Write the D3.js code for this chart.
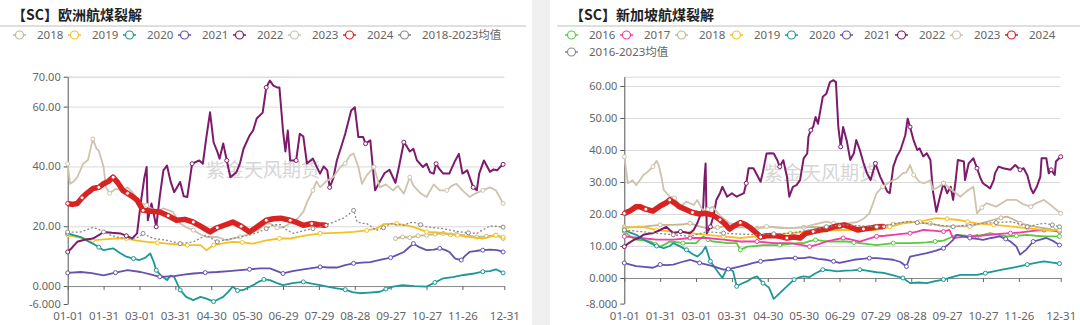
<!DOCTYPE html>
<html><head><meta charset="utf-8">
<script src="https://cdn.jsdelivr.net/npm/d3@7"></script>
<style>
body{margin:0;background:#fff;}
svg{display:block;font-family:"Noto Sans","Noto Sans CJK SC",sans-serif;}
</style></head><body>
<svg id="c" width="1080" height="325"></svg>
<script>
// ---------- shared axis data ----------
const xTickDays = [0,30,60,90,120,150,180,210,240,270,300,330,365];
const xTickLabels = ["01-01","01-31","03-01","03-31","04-30","05-30","06-29","07-29","08-28","09-27","10-27","11-26","12-31"];

// ---------- Europe (left) ----------
const euTitle = "【SC】欧洲航煤裂解";
const euYTicks = [-6,0,20,40,60,70];
const euYLabels = ["-6.000","0.000","20.00","40.00","60.00","70.00"];
const euYDomain = [-6,70];
const euLegend = ["2018","2019","2020","2021","2022","2023","2024","2018-2023均值"];

const eu2018 = [[274,15.9],[280,16.4],[286,16.2],[293,16.8],[300,17],[307,17.4],[314,17.6],[320,17.1],[325,17.3],[333,16.9],[342,16.4],[350,16.6],[358,17],[364,15.9]];
const eu2019 = [[0,17],[8,16.4],[15,15.8],[21,15.3],[30,15.6],[40,15.9],[49,15.9],[58,15.2],[66,14.8],[75,14.5],[83,14.2],[92,13.9],[100,13.7],[111,13.7],[116,12],[122,13.7],[130,14.3],[138,14.8],[146,14.6],[155,14.2],[166,15.3],[177,15.9],[186,15.9],[197,16.8],[211,17.6],[225,17.8],[239,18.1],[250,18.6],[258,19.2],[264,20.7],[275,20.9],[282,20.4],[289,19.8],[300,18.1],[308,17.9],[317,17.6],[326,17],[336,16.4],[347,15.9],[358,17],[364,16.4]];
const eu2020 = [[0,17.6],[5,17],[11,16.4],[16,15.2],[21,14.2],[26,13],[30,12],[38,12.6],[44,11],[49,9.8],[55,9.2],[60,8.7],[65,9.5],[69,10.9],[72,8],[74,5.3],[78,3.5],[83,2],[86,3.5],[89,3.1],[94,-1.3],[99,-3.6],[105,-4.7],[111,-3.6],[116,-4.2],[122,-5.2],[126,-4.4],[130,-3.6],[134,-2],[138,-0.2],[142,-1.5],[147,-1.3],[151,-0.5],[155,0.3],[160,1.5],[164,2.2],[169,2],[175,1],[180,0.3],[188,1],[197,1.4],[204,0.8],[211,0.3],[218,-0.3],[225,-0.8],[232,-1.2],[238,-2],[244,-2.4],[252,-2.2],[261,-1.9],[266,-1],[272,-0.2],[280,0.3],[290,0],[300,-0.2],[307,1.2],[314,2.6],[322,3],[331,3.7],[340,4.2],[347,4.8],[353,5],[358,5.6],[364,4.4]];
const eu2021 = [[0,4.4],[11,4.7],[20,4.3],[30,3.6],[40,4.5],[50,5.3],[61,4.7],[70,3.8],[77,3.1],[89,3.3],[97,3.8],[105,4.2],[115,4.5],[125,4.7],[135,5],[144,5.3],[152,5.6],[161,5.9],[169,5.9],[175,5],[180,4.2],[188,5],[197,5.6],[204,6],[211,6.4],[218,6.2],[225,6.2],[232,7],[239,7.6],[246,7.8],[253,8],[262,8.8],[270,9.5],[276,10.5],[281,11.4],[285,12.8],[289,14.2],[294,13],[300,12],[306,12.2],[311,12.6],[316,12],[319,11.4],[324,9.2],[329,8.7],[332,10],[336,11.4],[342,11.8],[347,12],[353,12.2],[359,12],[364,11.4]];
const eu2022 = [[0,11.4],[4,13],[8,14.8],[14,15.5],[21,15.9],[26,17],[30,18.1],[37,17.8],[44,17.6],[49,16.8],[54,15.9],[58,17.6],[61,27.6],[64,36],[66,39.8],[67,22],[70,27.6],[72,24],[74,19.8],[77,30],[80,38.7],[83,40.3],[86,35],[89,31.4],[94,34.8],[97,30],[100,29.8],[104,40.9],[110,42],[113,40.9],[116,50],[119,58.1],[122,48],[125,45],[127,42.6],[130,47.7],[133,42],[136,36.4],[141,38],[144,41],[147,45.9],[152,50.3],[155,52],[158,56],[163,58],[166,66.4],[169,68.7],[172,67],[175,66.4],[177,66.4],[180,52],[182,45],[184,52],[186,42],[191,42],[194,50.9],[197,50],[200,41],[205,42.6],[208,40],[211,37.6],[214,40],[217,38.7],[219,33],[222,36],[225,42],[229,47],[232,50.9],[237,58.7],[240,59.8],[243,49.8],[247,49.8],[249,47.6],[253,48.7],[255,40],[257,32],[261,35],[265,37.8],[269,38.9],[274,34.5],[277,40],[281,48.1],[283,47],[286,45],[289,45.9],[292,42],[297,39.8],[300,40.9],[303,38],[306,37.6],[308,40.9],[311,39],[314,37.6],[319,37.6],[324,42],[327,44.2],[330,37.6],[334,38.7],[336,36.4],[339,33],[342,32],[344,37.6],[348,42],[353,38.2],[356,39],[359,38.7],[362,40],[364,40.7]];
const eu2023 = [[0,40.9],[2,34.2],[5,35],[8,36.4],[13,40.9],[17,42.2],[21,49.2],[24,46],[26,45.3],[28,42.6],[30,39.8],[32,33.1],[35,31],[40,32.5],[46,32],[50,33],[55,31],[60,28.1],[66,27],[74,24.8],[80,26],[88,24.8],[94,20.9],[100,19.5],[105,18.7],[110,17.5],[116,16.4],[125,16.4],[133,15.3],[139,16],[144,16.4],[150,17.2],[155,18.1],[160,19],[166,20.9],[169,20.9],[175,19.5],[180,19.6],[186,21],[192,22.5],[197,24.8],[200,28],[205,32],[208,35],[211,33],[216,35],[222,36.4],[228,39.8],[232,41],[236,43.7],[239,44.3],[243,39.8],[246,34.2],[250,37],[256,39.8],[261,33],[266,34],[272,32],[276,33.5],[281,30.9],[286,36.4],[289,33.6],[295,31],[300,29.8],[306,34],[311,32],[317,32],[321,33.5],[325,34.2],[330,32],[336,29.8],[341,31],[347,32],[353,33],[358,32],[364,27.6]];
const eu2024 = [[0,27.6],[4,27.3],[8,27.6],[12,29.5],[16,31],[21,32.6],[26,33],[30,34.2],[34,35],[38,36.4],[42,34.5],[46,32],[50,31],[54,30],[58,28.7],[63,25.3],[70,25],[77,24.8],[84,23.5],[91,22],[98,22.3],[105,21.4],[112,19.8],[119,18.1],[125,19.5],[132,20.5],[138,21.4],[145,20],[152,18.1],[159,20],[166,22],[172,22.5],[178,22.7],[186,22],[192,21.2],[197,20.3],[204,20.9],[210,20.5],[216,20.3]];
const euAvg = [[0,18.1],[6,18],[11,18.1],[16,18.8],[21,19.6],[26,19],[30,18.1],[36,17],[41,16.4],[48,16],[55,15.9],[60,16.5],[63,17.6],[68,16.5],[72,15.9],[78,15.6],[83,15.3],[89,14.7],[94,14.2],[100,14.5],[105,14.8],[110,15.8],[116,17],[120,16],[125,14.8],[132,15.5],[138,15.9],[145,16.5],[152,17],[159,18],[166,19.2],[172,20.5],[178,20.5],[184,18.5],[189,17.6],[197,18.5],[205,19.2],[212,20],[219,20.9],[225,21.8],[230,22.6],[235,24],[239,25.3],[242,21.4],[246,21],[250,20.9],[254,19.8],[258,18.6],[264,19.5],[270,20.9],[275,20.5],[281,20.3],[285,21],[289,21.4],[295,20.5],[300,19.8],[307,19.5],[314,19.2],[321,18.6],[328,18.1],[335,17.8],[342,17.6],[348,19],[353,20.1],[358,20],[364,19.7]];

// ---------- Singapore (right) ----------
const sgTitle = "【SC】新加坡航煤裂解";
const sgYTicks = [-8,0,10,20,30,40,50,60];
const sgYLabels = ["-8.000","0.000","10.00","20.00","30.00","40.00","50.00","60.00"];
const sgYDomain = [-8,62.9];
const sgLegend = ["2016","2017","2018","2019","2020","2021","2022","2023","2024","2016-2023均值"];

const sg2016 = [[0,14.5],[5,13],[10,12],[16,11.8],[22,11.4],[26,10.5],[30,9.8],[34,10.5],[38,11.4],[44,11.2],[49,10.9],[55,10.9],[60,10.9],[63,12],[66,13],[70,12],[74,11.4],[80,11.2],[86,10.9],[94,10.9],[97,8.8],[103,9.8],[110,10],[116,10.3],[123,10.3],[130,10.3],[137,10.6],[144,10.9],[150,10.9],[155,11.5],[160,11.9],[166,11.6],[172,11.4],[179,11.4],[186,11.4],[192,11.1],[197,10.9],[204,10.6],[211,10.3],[218,10.6],[225,10.9],[232,10.9],[239,10.9],[246,11],[253,11.1],[260,11.4],[267,11.7],[272,12.5],[278,13.5],[286,13.2],[295,13],[300,13.5],[306,14],[313,13.5],[320,13],[328,13.2],[337,13.5],[344,13.2],[351,13],[358,13],[364,13]];
const sg2017 = [[0,13],[13,12.5],[27,12],[41,12],[55,12.5],[69,12.5],[83,12],[97,11.4],[111,11.4],[125,10.9],[139,10.9],[150,10.2],[155,9.8],[162,10.5],[169,11.4],[176,12],[183,12.5],[190,12],[197,11.4],[204,12.2],[211,13],[218,13.2],[225,13.5],[232,13.8],[239,14],[245,14.5],[250,15],[258,14.8],[267,14.5],[272,15],[275,12.5],[282,12.8],[289,13],[297,13.2],[306,13.5],[314,13.8],[323,14],[330,14.2],[337,14.5],[344,14.8],[351,15],[358,14.8],[364,14.5]];
const sg2018 = [[0,16],[10,15.8],[20,16.2],[30,16.6],[41,16.6],[50,16.8],[55,17.1],[62,16.2],[69,15.6],[78,15.8],[86,16.1],[97,15.8],[111,15.6],[124,16],[138,15.6],[150,15.8],[155,16],[169,15.8],[183,15.6],[197,15.8],[211,16],[225,16.8],[239,17.6],[248,17.3],[256,17],[267,16.1],[278,16.1],[289,16.1],[300,17.2],[309,18.2],[315,18.8],[320,19.2],[326,18.2],[331,17.1],[340,16.3],[351,15.6],[358,15.3],[364,15]];
const sg2019 = [[0,15.6],[13,16.1],[27,15],[41,14.5],[55,14],[69,13.5],[83,13],[97,12.5],[111,13],[125,13.5],[139,14],[155,14.5],[169,15],[183,15],[197,15],[211,15],[222,16],[233,17.1],[247,17.6],[261,18.7],[270,18.5],[278,18.2],[287,17.6],[295,17.1],[309,16.6],[323,16.1],[337,15.6],[351,15],[364,15]];
const sg2020 = [[0,15],[5,14.2],[10,13.5],[16,12],[22,10.9],[27,10],[33,9.3],[38,10],[41,10.9],[47,9.8],[52,8.8],[57,7.5],[61,6.7],[65,8],[68,9.8],[72,5.2],[77,2.6],[82,0],[86,3.1],[91,2.1],[94,-2.6],[98,-1.8],[103,-1],[107,0],[111,0.5],[116,-1.6],[121,-3],[125,-6.5],[130,-4.7],[136,-2.6],[142,-0.5],[147,0.3],[150,0.5],[155,0.3],[160,1.5],[166,2.6],[172,2.4],[178,2.1],[185,2.3],[191,2.4],[197,2.6],[204,2.2],[211,1.8],[217,1.6],[225,0.8],[233,0],[239,-1.6],[246,-1.4],[253,-1.6],[260,-1],[267,-0.5],[274,0.3],[281,1],[288,1],[295,1],[302,1.5],[309,2.1],[316,2.6],[323,3.1],[330,3.6],[337,4.2],[344,4.7],[351,5.2],[358,4.8],[364,4.5]];
const sg2021 = [[0,4.7],[5,4.2],[10,3.7],[17,3.5],[24,3.2],[30,4.2],[35,4],[41,4.2],[48,5],[55,5.7],[63,4.7],[69,4.2],[74,3.7],[79,3.1],[83,2.6],[87,2.8],[91,3.1],[97,3.6],[103,4.2],[108,4.7],[114,5.2],[119,5.5],[125,5.7],[130,6],[136,6.2],[143,6.2],[150,6.2],[155,6.5],[162,6],[169,5.7],[175,5.2],[180,4.7],[186,5.2],[192,5.7],[199,6],[205,6.2],[211,6.2],[218,6],[225,5.7],[231,5],[236,3.6],[239,6.7],[246,7.2],[253,7.8],[260,8.5],[267,9.3],[271,10.5],[275,11.9],[278,13.5],[284,13],[289,12.5],[295,12.2],[300,11.9],[307,12.5],[314,13],[319,12.2],[323,11.4],[328,9.8],[331,7.3],[336,8.8],[342,11.4],[348,12],[353,12.5],[359,11.5],[364,10.3]];
const sg2022 = [[0,9.8],[4,11],[8,11.9],[12,12.5],[16,13.5],[20,13.8],[24,14],[30,15],[35,16],[41,14],[47,14.5],[52,14.2],[55,14],[58,15],[61,17.1],[64,20],[66,22.3],[67,30.6],[68,35.8],[69,14],[72,16],[75,20],[77,24.4],[80,26.5],[82,28.5],[84,27],[86,25.4],[90,26.5],[94,25.4],[100,26.5],[102,29.6],[104,34.3],[108,34.3],[111,32.2],[114,30.1],[116,33.3],[119,38.9],[122,39],[125,38.9],[128,36.8],[130,34.8],[133,36.8],[136,31.7],[138,25.4],[141,28.5],[144,29],[147,30.6],[150,37.4],[153,38.9],[154,44.1],[156,46.2],[158,47.3],[160,50.3],[162,48.2],[166,56.6],[169,57.6],[172,61.2],[175,61.8],[177,61.2],[179,47.2],[181,41],[183,47.2],[186,43],[189,36.9],[192,39],[194,43.1],[197,40],[200,36],[203,32.7],[206,30.6],[210,35.8],[214,31.7],[218,28.5],[220,27],[222,26.5],[225,34.8],[228,38],[231,40],[235,44.6],[237,49.8],[239,47.2],[242,43],[245,40],[247,40.5],[250,38],[253,39],[256,36.9],[258,27.5],[261,20.7],[264,25.4],[267,29.6],[270,26.5],[273,28.5],[275,24.4],[277,30],[279,36.9],[284,36.4],[285,30.6],[288,35.8],[292,37.4],[295,34.3],[298,31.1],[300,29.6],[306,28],[309,30.6],[310,32.7],[313,34.8],[317,34.3],[323,33.8],[327,35.3],[331,33.8],[334,34.3],[337,32.2],[340,28],[342,26.5],[345,28.5],[348,31.7],[349,37.4],[353,37.4],[355,32.7],[357,33.8],[360,32.2],[361,36.4],[365,37.9]];
const sg2023 = [[0,37.9],[3,29.6],[7,30.5],[10,29],[16,32.2],[19,33],[24,34.8],[27,36.6],[29,35],[31,31.7],[33,27.5],[38,25.4],[42,25],[47,22.3],[52,23.9],[58,22.8],[61,24.4],[66,20.8],[70,21.5],[74,22.3],[80,19.5],[88,17.1],[97,16.1],[108,15.6],[119,16.1],[130,15.6],[141,15.6],[153,16.1],[160,16.8],[169,17.6],[175,17.1],[185,17],[195,17.5],[200,18.5],[205,20.2],[211,26.5],[216,28.5],[222,30],[228,31],[233,32.8],[236,33],[239,35.3],[242,32.2],[247,30],[251,29.6],[256,30.6],[258,27.5],[263,28.5],[267,29.6],[274,27.5],[281,25.4],[286,27],[292,28.5],[295,20.2],[299,22],[303,23.4],[311,22.3],[320,24.4],[328,24.4],[334,23],[340,22.3],[345,23.5],[351,24.4],[356,23],[360,21.7],[365,20.2]];
const sg2024 = [[0,20.2],[5,21],[10,22.3],[13,22.3],[18,21.5],[24,20.9],[30,22.5],[35,23.5],[38,24.4],[42,23.5],[46,22.3],[51,21.5],[57,20.5],[63,20],[68,20.2],[74,19.7],[80,18.2],[84,17],[88,15.3],[92,16.3],[97,17.3],[101,16.8],[105,15.8],[110,14.2],[114,12.8],[119,13.2],[125,13.3],[130,13],[136,12.5],[142,12.8],[147,12.5],[152,14],[158,14.5],[164,15],[169,15.2],[175,16],[180,16.3],[184,16.6],[190,15.8],[195,15],[200,15.3],[206,15.6],[211,16],[217,16.1]];
const sgAvg = [[0,15],[14,14.5],[27,14],[41,13.5],[55,13],[69,14.5],[83,14],[97,13.7],[111,13.5],[125,13.8],[139,14],[155,15],[169,16],[183,16.6],[197,16.3],[211,16],[224,16.8],[236,17.6],[245,17.3],[253,17],[264,16.5],[275,16],[288,16.6],[300,17.1],[311,17.3],[323,17.6],[331,16.8],[337,16],[344,16.6],[351,17.1],[358,16.6],[364,16]];

// ---------- styles ----------
const colors = {"2016":"#58cc3e","2017":"#f03ca8","2018":"#c6b68e","2019":"#f5c024","2020":"#1b9898","2021":"#6650b0","2022":"#7e1a6a","2023":"#cdc3ae","2024":"#d92222","avg":"#8a8a8a"};

const panels = [
  {title: euTitle, titleX: 12, lineX0: 0, lineX1: 526, legendX: 13, legend: euLegend,
   series: [eu2018,eu2019,eu2020,eu2021,eu2022,eu2023,eu2024,euAvg],
   keys: ["2018","2019","2020","2021","2022","2023","2024","avg"],
   x0: 67.7, x1: 504.3, yTop: 76.7, yBot: 304, yDomain: euYDomain, yTicks: euYTicks, yLabels: euYLabels,
   wmX: 263, wmY: 172},
  {title: sgTitle, titleX: 570, lineX0: 557, lineX1: 1080, legendX: 565, legend: sgLegend,
   series: [sg2016,sg2017,sg2018,sg2019,sg2020,sg2021,sg2022,sg2023,sg2024,sgAvg],
   keys: ["2016","2017","2018","2019","2020","2021","2022","2023","2024","avg"],
   x0: 624.3, x1: 1060.7, yTop: 76.7, yBot: 303.6, yDomain: sgYDomain, yTicks: sgYTicks, yLabels: sgYLabels,
   wmX: 821, wmY: 175}
];

const svg = d3.select("#c");
svg.append("rect").attr("x",532).attr("y",0).attr("width",18).attr("height",325).attr("fill","#f0f0f0");

panels.forEach(p => {
  const g = svg.append("g");
  // title
  g.append("text").attr("x",p.titleX).attr("y",20).attr("font-size",14).attr("font-weight","bold")
    .attr("font-family","'Noto Sans CJK SC',sans-serif").attr("fill","#222").text(p.title);
  g.append("line").attr("x1",p.lineX0).attr("x2",p.lineX1).attr("y1",26).attr("y2",26)
    .attr("stroke","#d4d4d4").attr("stroke-width",1.5);
  // legend
  const step = 55;
  const perRow = 9;
  p.legend.forEach((name,i) => {
    const col = i % perRow, row = Math.floor(i / perRow);
    const lx = p.legendX + col*step, ly = 35 + row*17;
    const key = p.keys[i];
    const c = colors[key];
    const li = g.append("g");
    li.append("line").attr("x1",lx).attr("x2",lx+13).attr("y1",ly).attr("y2",ly).attr("stroke",c).attr("stroke-width",1.5);
    li.append("circle").attr("cx",lx+6.5).attr("cy",ly).attr("r",4).attr("fill","#fff").attr("stroke",c).attr("stroke-width",1.2);
    li.append("text").attr("x",lx+24).attr("y",ly+4).attr("font-size",11.5).attr("fill","#666").text(name);
  });

  const x = d3.scaleLinear().domain([0,365]).range([p.x0,p.x1]);
  const y = d3.scaleLinear().domain(p.yDomain).range([p.yBot,p.yTop]);

  // gridlines
  const gridVals = p.yTicks.filter(v => v > 0).concat([p.yDomain[1]]);
  g.append("g").attr("transform",`translate(${p.x0},0)`)
    .call(d3.axisLeft(y).tickValues(gridVals).tickSize(-(p.x1-p.x0)).tickFormat(""))
    .call(a => { a.select(".domain").remove(); a.selectAll("line").attr("stroke","#d9d9d9"); });

  // y axis
  g.append("g").attr("transform",`translate(${p.x0},0)`)
    .call(d3.axisLeft(y).tickValues(p.yTicks).tickSize(4).tickSizeOuter(0).tickPadding(3)
      .tickFormat((d,i) => p.yLabels[i]))
    .call(a => { a.select(".domain").attr("stroke","#555");
                 a.selectAll("line").attr("stroke","#555");
                 a.selectAll("text").attr("fill","#666").attr("font-size",11).attr("font-family","'Noto Sans',sans-serif"); });

  // x axis line at zero
  g.append("g").attr("transform",`translate(0,${y(0)})`)
    .call(d3.axisBottom(x).tickValues(xTickDays).tickSize(4).tickSizeOuter(0).tickFormat(""))
    .call(a => { a.select(".domain").attr("stroke","#888"); a.selectAll("line").attr("stroke","#666"); });
  // x labels at bottom
  g.append("g").attr("transform",`translate(0,${p.yBot})`)
    .call(d3.axisBottom(x).tickValues(xTickDays).tickSize(0).tickPadding(8).tickFormat((d,i)=>xTickLabels[i]))
    .call(a => { a.select(".domain").remove();
                 a.selectAll("text").attr("fill","#666").attr("font-size",11.5).attr("font-family","'Noto Sans',sans-serif"); });

  // watermark
  g.append("text").attr("x",p.wmX).attr("y",p.wmY).attr("text-anchor","middle").attr("dominant-baseline","middle")
    .attr("font-size",19).attr("fill","#d6d6d6").attr("font-family","'Noto Sans CJK SC',sans-serif").text("紫金天风期货");

  // lines
  const line = d3.line().x(d => x(d[0])).y(d => y(d[1]));
  p.series.forEach((s,i) => {
    const key = p.keys[i];
    const c = colors[key];
    const w = key === "2024" ? 5.5 : (key === "2022" ? 2 : 1.8);
    const path = g.append("path").datum(s).attr("d",line).attr("fill","none").attr("stroke",c)
      .attr("stroke-width",w).attr("stroke-linejoin","round");
    if (key === "avg") path.attr("stroke-dasharray","2,2").attr("stroke-width",1.3);
    const k = Math.max(1, Math.round(s.length / 12));
    g.selectAll(null).data(s.filter((d,j) => j % k === 0 || j === s.length-1)).enter().append("circle")
      .attr("cx",d=>x(d[0])).attr("cy",d=>y(d[1])).attr("r",2)
      .attr("fill","#fff").attr("stroke",c).attr("stroke-width",1);
  });
});
</script>
</body></html>
